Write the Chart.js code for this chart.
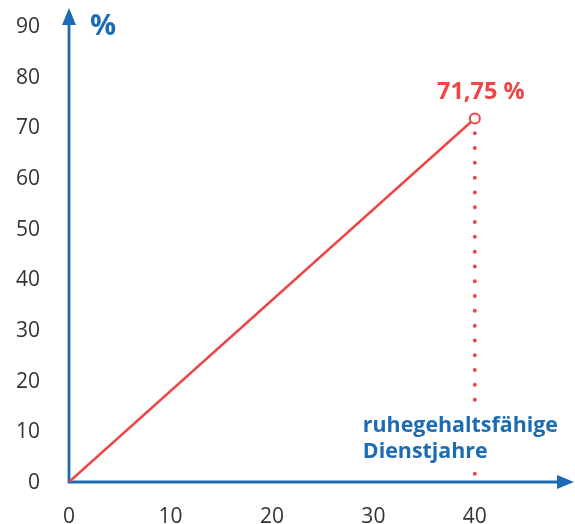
<!DOCTYPE html>
<html lang="de">
<head>
<meta charset="utf-8">
<title>Ruhegehaltssatz</title>
<script src="https://cdn.jsdelivr.net/npm/chart.js@4.4.1/dist/chart.umd.min.js"></script>
<style>
  html, body { margin: 0; padding: 0; background: #ffffff; }
  #wrap { position: relative; width: 575px; height: 524px; }
</style>
</head>
<body>
<div id="wrap"><canvas id="c" width="575" height="524"></canvas></div>
<script>
// Dienstjahre (x) and Ruhegehaltssatz in % (y)
const serviceYears = [0, 40];
const pensionRate = [0, 71.75];

// Axis tick labels
const xTickValues = [0, 10, 20, 30, 40];
const yTickValues = [0, 10, 20, 30, 40, 50, 60, 70, 80, 90];

// Axis texts
const yAxisTitle = '%';
const xAxisTitle = ['ruhegehaltsfähige', 'Dienstjahre'];

const BLUE = '#1c6cb4';
const RED = '#ee4646';
const TICK = '#333333';
const FONT = '"Open Sans", "Noto Sans", sans-serif';

const lastX = serviceYears[serviceYears.length - 1];
const lastY = pensionRate[pensionRate.length - 1];
const rateLabel = lastY.toLocaleString('de-DE', { minimumFractionDigits: 2 }) + ' %';

// Arrowed axes, axis captions and the value label
const axesPlugin = {
  id: 'arrowAxes',
  beforeDatasetsDraw(chart) {
    const ctx = chart.ctx;
    const xs = chart.scales.x, ys = chart.scales.y;
    const ox = xs.getPixelForValue(0), oy = ys.getPixelForValue(0);
    const yTip = 8, xTip = 574, head = 17, half = 7;
    ctx.save();
    ctx.strokeStyle = BLUE;
    ctx.fillStyle = BLUE;
    ctx.lineWidth = 2.8;
    ctx.beginPath();
    ctx.moveTo(ox, oy + 1.4);
    ctx.lineTo(ox, yTip + head - 1);
    ctx.moveTo(ox - 1.4, oy);
    ctx.lineTo(xTip - head + 1, oy);
    ctx.stroke();
    ctx.beginPath();
    ctx.moveTo(ox, yTip);
    ctx.lineTo(ox - half, yTip + head);
    ctx.lineTo(ox + half, yTip + head);
    ctx.closePath();
    ctx.fill();
    ctx.beginPath();
    ctx.moveTo(xTip, oy);
    ctx.lineTo(xTip - head, oy - half);
    ctx.lineTo(xTip - head, oy + half);
    ctx.closePath();
    ctx.fill();
    ctx.restore();
  },
  afterDatasetsDraw(chart) {
    const ctx = chart.ctx;
    const xs = chart.scales.x, ys = chart.scales.y;
    const ox = xs.getPixelForValue(0);
    const px = xs.getPixelForValue(lastX), py = ys.getPixelForValue(lastY);
    ctx.save();
    // y axis caption
    ctx.fillStyle = BLUE;
    ctx.font = 'bold 29px ' + FONT;
    ctx.textAlign = 'left';
    ctx.textBaseline = 'alphabetic';
    ctx.fillText(yAxisTitle, ox + 21, 35);
    // x axis caption on a white backing
    ctx.font = 'bold 21.4px ' + FONT;
    const tx = px - 112, ty1 = 432, ty2 = 458;
    const w = Math.max(...xAxisTitle.map(t => ctx.measureText(t).width));
    ctx.fillStyle = '#ffffff';
    ctx.fillRect(tx - 2, ty1 - 21, w + 4, ty2 - ty1 + 27);
    ctx.fillStyle = BLUE;
    ctx.fillText(xAxisTitle[0], tx, ty1);
    ctx.fillText(xAxisTitle[1], tx, ty2);
    // value label above the end point
    ctx.fillStyle = RED;
    ctx.font = 'bold 23.5px ' + FONT;
    ctx.textAlign = 'center';
    ctx.fillText(rateLabel, px + 6, py - 19);
    ctx.restore();
  }
};

new Chart(document.getElementById('c'), {
  type: 'scatter',
  data: {
    datasets: [
      {
        label: 'Ruhegehaltssatz',
        data: serviceYears.map((x, i) => ({ x, y: pensionRate[i] })),
        showLine: true,
        borderColor: RED,
        borderWidth: 2.5,
        pointRadius: serviceYears.map((x, i) => (i === serviceYears.length - 1 ? 5 : 0)),
        pointBackgroundColor: '#ffffff',
        pointBorderColor: RED,
        pointBorderWidth: 2,
        order: 1
      },
      {
        label: 'Lot',
        data: [{ x: lastX, y: lastY }, { x: lastX, y: 0 }],
        showLine: true,
        borderColor: RED,
        borderWidth: 4,
        borderDash: [0, 14.8],
        borderCapStyle: 'round',
        pointRadius: 0,
        order: 2
      }
    ]
  },
  options: {
    responsive: false,
    animation: false,
    events: [],
    layout: { padding: { top: 26, right: 19, left: 0, bottom: 0 } },
    plugins: { legend: { display: false }, tooltip: { enabled: false } },
    scales: {
      x: {
        type: 'linear',
        min: 0,
        max: 48,
        grid: { display: false, drawTicks: false },
        border: { display: false },
        afterFit(s) { s.height = 42; s.paddingLeft = 0; s.paddingRight = 0; },
        afterBuildTicks(s) { s.ticks = xTickValues.map(v => ({ value: v })); },
        ticks: {
          color: TICK,
          font: { family: FONT, size: 21 },
          padding: 22,
          maxRotation: 0,
          autoSkip: false
        }
      },
      y: {
        type: 'linear',
        min: 0,
        max: 90,
        grid: { display: false, drawTicks: false },
        border: { display: false },
        afterFit(s) { s.width = 69; s.paddingTop = 0; s.paddingBottom = 0; },
        afterBuildTicks(s) { s.ticks = yTickValues.map(v => ({ value: v })); },
        ticks: {
          color: TICK,
          font: { family: FONT, size: 21 },
          padding: 29,
          labelOffset: 1,
          autoSkip: false
        }
      }
    }
  },
  plugins: [axesPlugin]
});
</script>
</body>
</html>
